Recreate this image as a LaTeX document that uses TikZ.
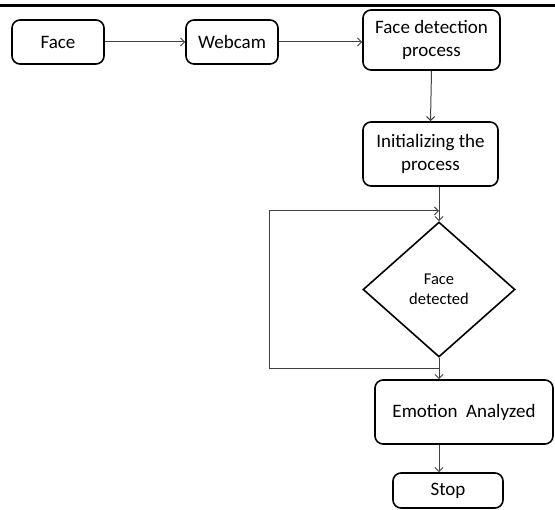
\documentclass[tikz,border=0pt]{standalone}
\usepackage{fontspec}
\setmainfont{Carlito}
\usepackage{tikz}
\usetikzlibrary{arrows.meta, positioning, shapes.geometric, calc}

\begin{document}
\begin{tikzpicture}[
  x=1pt, y=-1pt,
  box/.style={draw, line width=1.6pt, rounded corners=8pt, inner sep=0pt, align=center, font=\fontsize{19}{23}\selectfont},
  decision/.style={draw, diamond, line width=1.6pt, inner sep=0pt, align=center, font=\fontsize{16.5}{20}\selectfont},
  arrow/.style={-{Straight Barb[length=4pt, width=8pt]}, line width=1pt, black!75}
]

% Canvas and top rule
\useasboundingbox (0,0) rectangle (555,510);
\draw[line width=3pt] (0,6) -- (555,6);

% Top row
\node[box, minimum width=92pt, minimum height=44pt] (face) at (58,42) {Face};
\node[box, minimum width=92pt, minimum height=44pt] (webcam) at (232,42) {Webcam};
\node[box, minimum width=137pt, minimum height=60pt] (detect) at (431.5,40) {Face detection\\process};

% Main column
\node[box, minimum width=135pt, minimum height=64pt] (init) at (430.5,154) {Initializing the\\process};
\node[decision, minimum width=152pt, minimum height=135pt] (dec) at (439,289.5) {Face\\detected};
\node[box, minimum width=178pt, minimum height=64pt] (emo) at (464,412) {Emotion\ \ Analyzed};
\node[box, minimum width=110pt, minimum height=35pt] (stop) at (448,490.5) {Stop};

% Arrows
\draw[arrow] (face.east) -- (webcam.west);
\draw[arrow] (webcam.east) -- (webcam.east -| detect.west);
\draw[arrow] (detect.south) -- (init.north);
\draw[arrow] (init.south -| dec.north) -- (dec.north);
\draw[arrow] (dec.south) -- (dec.south |- emo.north);
\draw[arrow] (emo.south -| dec.south) -- (stop.north -| dec.south);

% Loop back
\coordinate (loopout) at (439,369);
\coordinate (loopin) at (439,211);
\draw[arrow] (loopout) -- (269,369) |- (loopin);

\end{tikzpicture}
\end{document}
